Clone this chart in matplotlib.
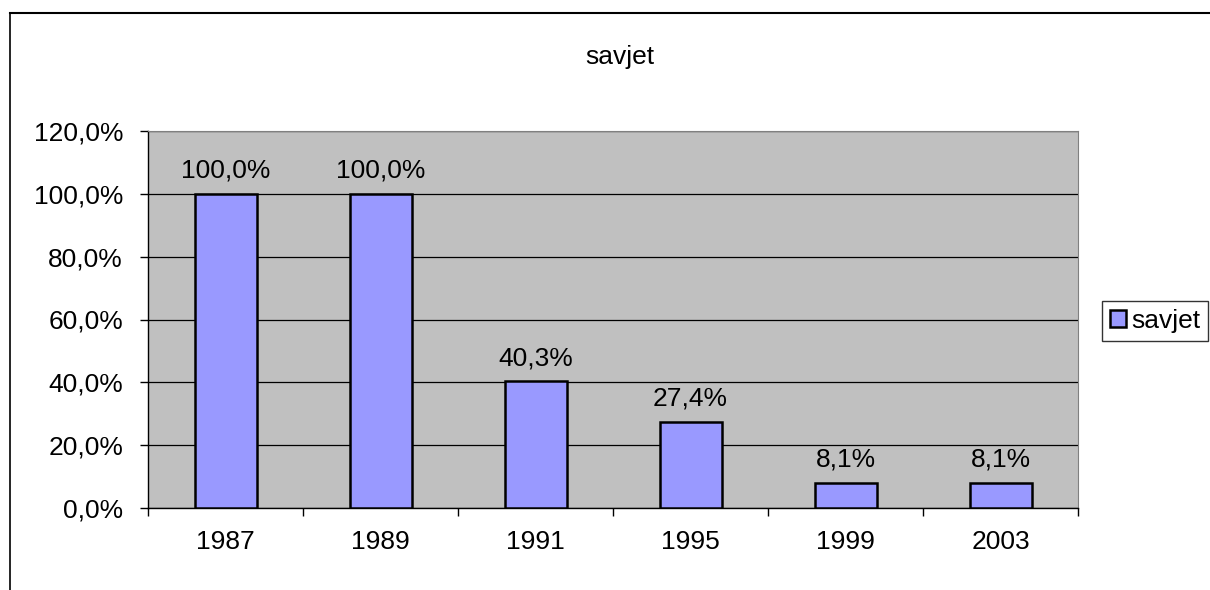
import matplotlib
matplotlib.use("Agg")
import matplotlib.pyplot as plt
from matplotlib.lines import Line2D
from matplotlib.patches import Patch
from matplotlib.ticker import FuncFormatter, MultipleLocator

years = ["1987", "1989", "1991", "1995", "1999", "2003"]
savjet = [100.0, 100.0, 40.3, 27.4, 8.1, 8.1]
series_name = "savjet"

plt.rcParams["font.family"] = ["Liberation Sans", "DejaVu Sans"]
FS = 19

W, H = 1210, 590
fig = plt.figure(figsize=(W / 100, H / 100), dpi=100)
ax = fig.add_axes([148 / W, 1 - 508 / H, (1078 - 148) / W, (508 - 131) / H])

# outer chart frame (only top and left edges visible)
fig.add_artist(Line2D([10 / W, 10 / W], [0, 1 - 13 / H], color="black", lw=1.2))
fig.add_artist(Line2D([10 / W, 1], [1 - 13 / H, 1 - 13 / H], color="black", lw=1.5))

ax.set_facecolor("#C0C0C0")
ax.set_axisbelow(True)
ax.grid(axis="y", color="black", lw=0.9)

x = range(len(years))
ax.bar(x, savjet, width=0.4, color="#9999FF", edgecolor="black", lw=1.8, zorder=3)
for i, v in enumerate(savjet):
    ax.text(i, v + 3.6, f"{v:.1f}%".replace(".", ","), ha="center", va="bottom",
            fontsize=FS)

ax.set_xlim(-0.5, len(years) - 0.5)
ax.set_ylim(0, 120)
ax.yaxis.set_major_locator(MultipleLocator(20))
ax.yaxis.set_major_formatter(FuncFormatter(lambda v, _: f"{v:.1f}%".replace(".", ",")))
ax.set_xticks(list(x))
ax.set_xticklabels(years)
ax.tick_params(axis="x", length=0, pad=16, labelsize=FS)
ax.set_xticks([i - 0.5 for i in range(len(years) + 1)], minor=True)
ax.tick_params(axis="x", which="minor", length=6, width=1)
ax.tick_params(axis="y", length=6, width=1, labelsize=FS, pad=12)

for s in ["top", "right"]:
    ax.spines[s].set_color("#808080")
for s in ["left", "bottom"]:
    ax.spines[s].set_color("black")
    ax.spines[s].set_linewidth(1)

fig.text(620 / W, 1 - 57 / H, series_name, ha="center", va="center", fontsize=FS)

leg = fig.legend(handles=[Patch(facecolor="#9999FF", edgecolor="black", lw=1.8, label=series_name)],
                 loc="center", bbox_to_anchor=(1155 / W, 1 - 321 / H), fontsize=FS,
                 frameon=True, fancybox=False, handlelength=0.6, handleheight=0.6,
                 handletextpad=0.2, borderpad=0.3, borderaxespad=0)
leg.get_frame().set_edgecolor("black")
leg.get_frame().set_linewidth(1)

fig.savefig("out.png", dpi=100)
